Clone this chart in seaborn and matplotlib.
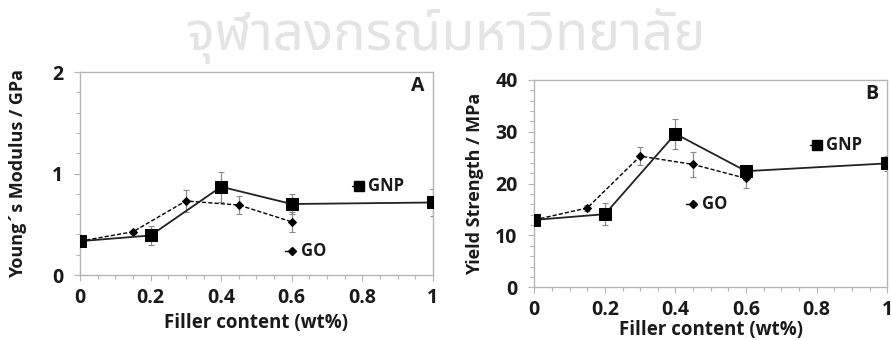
import matplotlib
matplotlib.use("Agg")
import matplotlib.pyplot as plt
import seaborn as sns
import pandas as pd
import numpy as np

# ---- data ----
gnp_x = [0, 0.2, 0.4, 0.6, 1.0]
go_x = [0, 0.15, 0.3, 0.45, 0.6]

gnp_modulus = [0.334, 0.39, 0.87, 0.70, 0.715]
gnp_modulus_err = [0.02, 0.09, 0.15, 0.10, 0.13]
go_modulus = [0.334, 0.426, 0.73, 0.69, 0.525]
go_modulus_err = [0.02, 0.02, 0.11, 0.09, 0.10]

gnp_yield = [13.0, 14.1, 29.6, 22.4, 23.9]
gnp_yield_err = [0.6, 2.1, 2.9, 1.0, 1.5]
go_yield = [13.0, 15.3, 25.3, 23.7, 21.0]
go_yield_err = [0.6, 0.5, 1.8, 2.4, 1.8]

x_ticks = [0, 0.2, 0.4, 0.6, 0.8, 1]
x_ticklabels = ["0", "0.2", "0.4", "0.6", "0.8", "1"]
series_names = ["GNP", "GO"]

sns.set_theme(style="white")
plt.rcParams['font.family'] = ['Open Sans', 'DejaVu Sans']

fig = plt.figure(figsize=(8.91, 3.40), dpi=100)
axA = fig.add_axes([0.0898, 0.191, 0.396, 0.597])
axB = fig.add_axes([0.5997, 0.155, 0.396, 0.610])

spine_col = "#b5b5b5"
err_col = "#8a8a8a"
txt_col = "#1a1a1a"


def draw(ax, y_gnp, e_gnp, y_go, e_go, xpad):
    df = pd.concat([
        pd.DataFrame({"x": gnp_x, "y": y_gnp, "s": "GNP"}),
        pd.DataFrame({"x": go_x, "y": y_go, "s": "GO"}),
    ])
    ax.errorbar(go_x, y_go, yerr=e_go, fmt="none", ecolor=err_col,
                elinewidth=0.9, capsize=2, capthick=0.8, zorder=1)
    ax.errorbar(gnp_x, y_gnp, yerr=e_gnp, fmt="none", ecolor=err_col,
                elinewidth=0.9, capsize=2, capthick=0.8, zorder=1)
    sns.lineplot(data=df[df.s == "GO"], x="x", y="y", ax=ax, color="black",
                 linestyle=(0, (3, 1.5)), linewidth=1.0, marker="D",
                 markersize=4.5, markeredgecolor="black", legend=False, zorder=3)
    sns.lineplot(data=df[df.s == "GNP"], x="x", y="y", ax=ax, color="#222222",
                 linewidth=1.3, marker="s", markersize=8.5,
                 markeredgecolor="black", markerfacecolor="black",
                 legend=False, zorder=4)
    ax.set_xlim(0, 1)
    ax.set_xticks(x_ticks)
    ax.set_xticklabels(x_ticklabels)
    ax.set_xticks(np.arange(0, 1.0001, 0.05), minor=True)
    for s in ax.spines.values():
        s.set_color(spine_col)
        s.set_linewidth(1.0)
    ax.tick_params(axis="both", which="both", direction="out", color=spine_col,
                   length=4, width=0.8, labelsize=14, labelcolor=txt_col)
    ax.tick_params(axis="x", which="major", pad=5)
    ax.tick_params(axis="y", which="major", pad=8)
    ax.tick_params(axis="both", which="minor", length=3)
    ax.tick_params(bottom=True, left=True, which="both")
    ax.set_xlabel("Filler content (wt%)", fontsize=13.5, fontweight="bold",
                  color=txt_col, labelpad=xpad)
    ax.grid(False)


def bold_ticks(ax):
    for lab in ax.get_xticklabels() + ax.get_yticklabels():
        lab.set_fontweight("bold")


def legend_item(ax, x, y, dx, marker, ms, label):
    ax.plot([x - dx, x + dx * 0.5], [y, y], color="black", linestyle="-",
            linewidth=1.0, zorder=5)
    ax.plot([x], [y], marker=marker, color="black", markersize=ms,
            linestyle="none", zorder=6)
    ax.annotate(label, (x + dx * 0.5, y), xytext=(4, 0),
                textcoords="offset points", va="center", ha="left",
                fontsize=12, fontweight="bold", color=txt_col)


# Panel A
draw(axA, gnp_modulus, gnp_modulus_err, go_modulus, go_modulus_err, 4)
axA.set_ylim(0, 2)
axA.set_yticks([0, 1, 2])
axA.set_yticks(np.arange(0, 2.0001, 0.2), minor=True)
bold_ticks(axA)
axA.set_ylabel("Young\u00b4s Modulus / GPa", fontsize=13, fontweight="bold",
               color=txt_col, labelpad=18)
axA.text(0.975, 0.93, "A", transform=axA.transAxes, ha="right", va="center",
         fontsize=14, fontweight="bold", color=txt_col)
legend_item(axA, 0.79, 0.878, 0.02, "s", 6.5, series_names[0])
legend_item(axA, 0.60, 0.24, 0.02, "D", 4, series_names[1])

# Panel B
draw(axB, gnp_yield, gnp_yield_err, go_yield, go_yield_err, 0)
axB.set_ylim(0, 40)
axB.set_yticks([0, 10, 20, 30, 40])
axB.set_yticks(np.arange(0, 40.001, 2), minor=True)
bold_ticks(axB)
axB.set_ylabel("Yield Strength / MPa", fontsize=13, fontweight="bold",
               color=txt_col, labelpad=8)
axB.text(0.975, 0.93, "B", transform=axB.transAxes, ha="right", va="center",
         fontsize=14, fontweight="bold", color=txt_col)
legend_item(axB, 0.80, 27.4, 0.02, "s", 6.5, series_names[0])
legend_item(axB, 0.45, 16.0, 0.02, "D", 4, series_names[1])

# watermark
fig.text(0.5, 0.895, "จุฬาลงกรณ์มหาวิทยาลัย", ha="center", va="center",
         fontsize=39, fontweight="bold", color="#e4e4e4", zorder=0,
         family=["Noto Sans Thai", "Noto Sans", "DejaVu Sans"])

fig.savefig("out.png", dpi=100)
